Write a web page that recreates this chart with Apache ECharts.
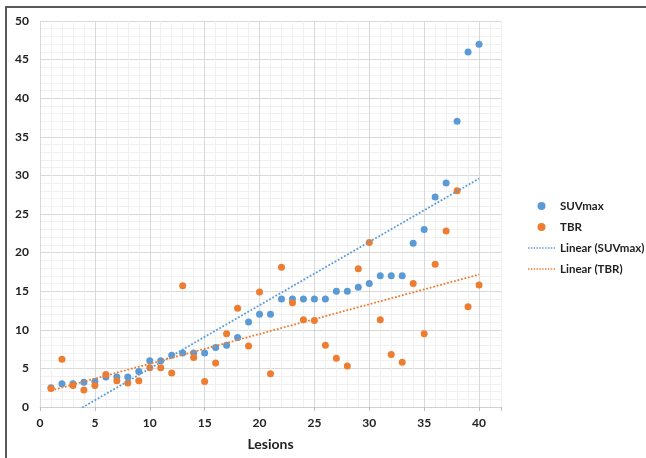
<!DOCTYPE html>
<html>
<head>
<meta charset="utf-8">
<script src="https://cdn.jsdelivr.net/npm/echarts@6/dist/echarts.min.js"></script>
<style>
  html, body { margin: 0; padding: 0; background: #fff; }
  #container { width: 646px; height: 458px; }
</style>
</head>
<body>
<div id="container"></div>
<script>
// lesion number 1..40
var lesions = []
for (var i = 1; i <= 40; i++) lesions.push(i)

var suvmax = [2.5, 3.0, 3.0, 3.2, 3.3, 3.9, 3.9, 3.9, 4.6, 6.0,
              6.0, 6.7, 7.0, 7.0, 7.0, 7.7, 8.0, 9.0, 11.0, 12.0,
              12.0, 14.0, 14.0, 14.0, 14.0, 14.0, 15.0, 15.0, 15.5, 16.0,
              17.0, 17.0, 17.0, 21.2, 23.0, 27.2, 29.0, 37.0, 46.0, 47.0]

var tbr = [2.4, 6.2, 2.8, 2.2, 2.8, 4.2, 3.4, 3.1, 3.4, 5.1,
           5.1, 4.4, 15.7, 6.4, 3.3, 5.7, 9.5, 12.8, 7.9, 14.9,
           4.3, 18.1, 13.5, 11.3, 11.2, 8.0, 6.3, 5.3, 17.9, 21.3,
           11.3, 6.8, 5.8, 16.0, 9.5, 18.5, 22.8, 28.0, 13.0, 15.8]

var yTicks = [0, 5, 10, 15, 20, 25, 30, 35, 40, 45, 50]
var xTicks = [0, 5, 10, 15, 20, 25, 30, 35, 40]

var blue = '#5B9BD5'
var orange = '#ED7D31'
var font = 'Lato, "Open Sans", sans-serif'

function pairs(xs, ys) {
    var out = []
    for (var i = 0; i < xs.length; i++) out.push([xs[i], ys[i]])
    return out
}

// least squares trendline (same as Excel "Linear" trendline)
function trend(xs, ys) {
    var n = xs.length, sx = 0, sy = 0, sxy = 0, sxx = 0
    for (var i = 0; i < n; i++) {
        sx += xs[i]; sy += ys[i]; sxy += xs[i] * ys[i]; sxx += xs[i] * xs[i]
    }
    var b = (n * sxy - sx * sy) / (n * sxx - sx * sx)
    var a = (sy - b * sx) / n
    var x0 = xs[0], x1 = xs[n - 1]
    return [[x0, a + b * x0], [x1, a + b * x1]]
}

// dotted line legend icon
var dots = 'path://'
for (var k = 0; k < 10; k++) dots += 'M' + (k * 3) + ',0h1.5v1.5h-1.5z'

// major gridline every 5th line, light minor lines in between
var gridColors = ['#d9d9d9', '#f0f0f0', '#f0f0f0', '#f0f0f0', '#f0f0f0']

var myChart = echarts.init(document.getElementById('container'))
myChart.setOption({
    animation: false,
    textStyle: { fontFamily: font },
    graphic: [{
        type: 'rect',
        shape: { x: 6, y: 7, width: 700, height: 500 },
        style: { fill: 'none', stroke: '#595959', lineWidth: 2 },
        silent: true
    }],
    grid: { left: 40, top: 21, right: 145, bottom: 51 },
    legend: {
        orient: 'vertical',
        left: 523,
        top: 195,
        itemWidth: 27,
        itemHeight: 8,
        itemGap: 9,
        textStyle: { fontSize: 11.5, fontWeight: 'bold', color: '#222', fontFamily: font },
        data: [
            { name: 'SUVmax', icon: 'circle' },
            { name: 'TBR', icon: 'circle' },
            { name: 'Linear (SUVmax)', icon: dots },
            { name: 'Linear (TBR)', icon: dots }
        ]
    },
    xAxis: [{
        type: 'value',
        min: 0,
        max: 42,
        interval: 1,
        name: 'Lesions',
        nameLocation: 'middle',
        nameGap: 30,
        nameTextStyle: { fontSize: 14, fontWeight: 'bold', color: '#222', fontFamily: font },
        axisLine: { show: true, lineStyle: { color: '#d0d0d0' } },
        axisTick: { show: false },
        axisLabel: {
            margin: 10,
            fontSize: 12, fontWeight: 'bold', color: '#222', fontFamily: font,
            formatter: function (v) { return xTicks.indexOf(v) >= 0 ? String(v) : '' }
        },
        splitLine: { show: true, lineStyle: { color: gridColors, width: 1 } }
    }, {
        // only draws the major tick marks under the axis
        type: 'value',
        position: 'bottom',
        offset: 0,
        min: 0,
        max: 42,
        interval: 5,
        axisLine: { show: false },
        axisTick: { show: true, inside: false, length: 4, lineStyle: { color: '#bfbfbf' } },
        axisLabel: { show: false },
        splitLine: { show: false }
    }],
    yAxis: {
        type: 'value',
        min: 0,
        max: 50,
        interval: 1,
        axisLine: { show: false },
        axisTick: { show: false },
        axisLabel: {
            margin: 11,
            fontSize: 12, fontWeight: 'bold', color: '#222', fontFamily: font,
            formatter: function (v) { return yTicks.indexOf(v) >= 0 ? String(v) : '' }
        },
        splitLine: { show: true, lineStyle: { color: gridColors, width: 1 } }
    },
    series: [
        {
            name: 'SUVmax',
            type: 'scatter',
            symbolSize: 7,
            itemStyle: { color: blue, opacity: 1 },
            data: pairs(lesions, suvmax)
        },
        {
            name: 'TBR',
            type: 'scatter',
            symbolSize: 7,
            itemStyle: { color: orange, opacity: 1 },
            data: pairs(lesions, tbr)
        },
        {
            name: 'Linear (SUVmax)',
            type: 'line',
            symbol: 'none',
            clip: true,
            itemStyle: { color: blue },
            lineStyle: { color: blue, width: 1.8, type: [1.8, 1.8] },
            data: trend(lesions, suvmax)
        },
        {
            name: 'Linear (TBR)',
            type: 'line',
            symbol: 'none',
            clip: true,
            itemStyle: { color: orange },
            lineStyle: { color: orange, width: 1.8, type: [1.8, 1.8] },
            data: trend(lesions, tbr)
        }
    ]
})
</script>
</body>
</html>
